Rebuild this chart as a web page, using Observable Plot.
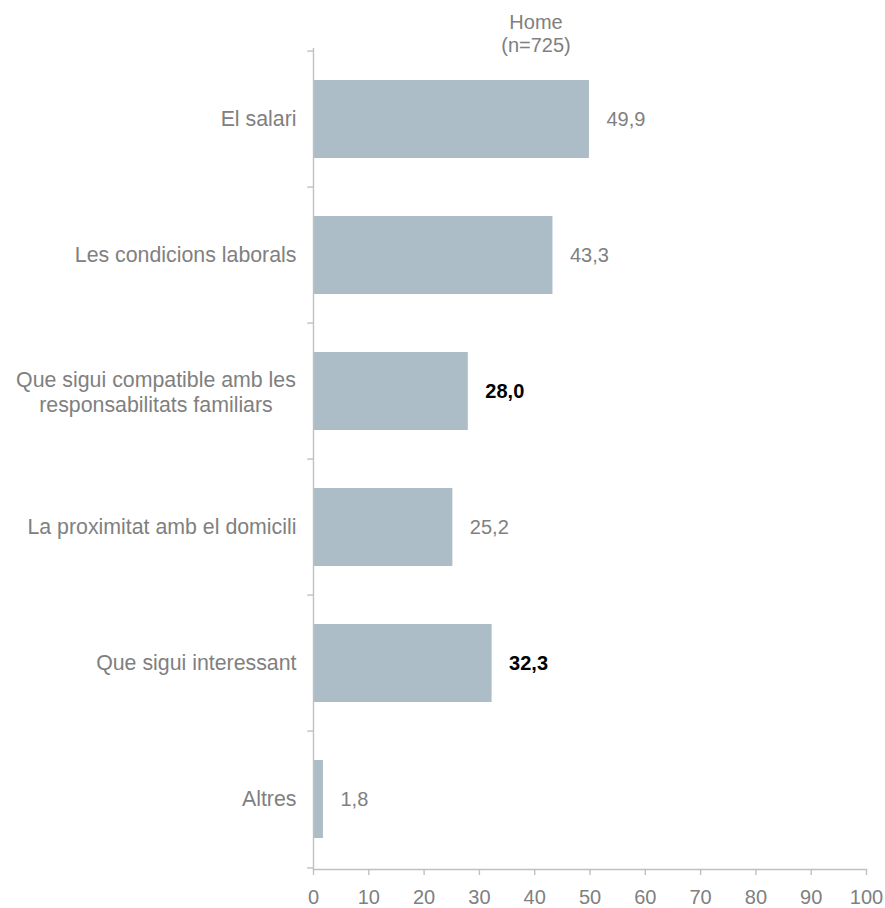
<!DOCTYPE html>
<html>
<head>
<meta charset="utf-8">
<script src="https://cdn.jsdelivr.net/npm/d3@7"></script>
<script src="https://cdn.jsdelivr.net/npm/@observablehq/plot@0.6"></script>
<style>
  body { margin: 0; background: #fff; }
  #chart svg { display: block; }
</style>
</head>
<body>
<div id="chart"></div>
<script>
const categories = [
  "El salari",
  "Les condicions laborals",
  "Que sigui compatible amb les\nresponsabilitats familiars",
  "La proximitat amb el domicili",
  "Que sigui interessant",
  "Altres"
];
const values = [49.9, 43.3, 28.0, 25.2, 32.3, 1.8];
const highlighted = [false, false, true, false, true, false];
const xTicks = [0, 10, 20, 30, 40, 50, 60, 70, 80, 90, 100];
const titleLines = "Home\n(n=725)";

const data = categories.map((c, i) => ({cat: c, value: values[i], hi: highlighted[i], multi: c.includes("\n")}));

const W = 885, H = 908;
const mTop = 48, mBottom = 39, mLeft = 313, mRight = 19;
const step = (H - mTop - mBottom) / categories.length;
const fmt = v => d3.format(".1f")(v).replace(".", ",");
const gray = "#808080";
const axisColor = "#c0c0c0";
const FS = 20;
const CFS = 21.33;

const chart = Plot.plot({
  width: W,
  height: H,
  marginTop: mTop,
  marginBottom: mBottom,
  marginLeft: mLeft,
  marginRight: mRight,
  style: {fontFamily: "'Liberation Sans', Arial, sans-serif", fontSize: FS + "px", color: gray, background: "#fff"},
  x: {domain: [0, 100], ticks: xTicks, label: null},
  y: {domain: categories, paddingInner: 0.43, paddingOuter: 0.215, axis: null, label: null},
  marks: [
    Plot.barX(data, {y: "cat", x: "value", fill: "#adbdc7"}),
    // y axis line
    Plot.ruleX([0], {stroke: axisColor, strokeWidth: 1.4}),
    // x axis line
    Plot.frame({anchor: "bottom", stroke: axisColor, strokeWidth: 1.4}),
    Plot.axisX({ticks: xTicks, tickSize: 6, tickPadding: 14, stroke: axisColor, strokeWidth: 1.4, fill: gray, fontSize: FS, label: null}),
    // y ticks at category boundaries
    Plot.ruleY(data, {y: "cat", x1: -1.05, x2: 0, dy: -step / 2, stroke: axisColor, strokeWidth: 1.4}),
    Plot.ruleY(data.slice(-1), {y: "cat", x1: -1.05, x2: 0, dy: step / 2, stroke: axisColor, strokeWidth: 1.4}),
    // category labels
    Plot.text(data.filter(d => !d.multi), {y: "cat", x: 0, text: "cat", textAnchor: "end", dx: -17, fill: gray, fontSize: CFS}),
    Plot.text(data.filter(d => d.multi), {y: "cat", x: 0, text: "cat", textAnchor: "middle", dx: -157.5, lineHeight: 1.15, fill: gray, fontSize: CFS}),
    // value labels
    Plot.text(data.filter(d => !d.hi), {y: "cat", x: "value", text: d => fmt(d.value), textAnchor: "start", dx: 17, fill: gray, fontSize: FS}),
    Plot.text(data.filter(d => d.hi), {y: "cat", x: "value", text: d => fmt(d.value), textAnchor: "start", dx: 17, fill: "#000", fontWeight: "bold", fontSize: FS}),
    // title
    Plot.text([titleLines], {frameAnchor: "top", text: d => d, dx: -54, dy: -15, lineAnchor: "middle", lineHeight: 1.15, fill: gray, fontSize: FS})
  ]
});
document.getElementById("chart").appendChild(chart);
</script>
</body>
</html>
